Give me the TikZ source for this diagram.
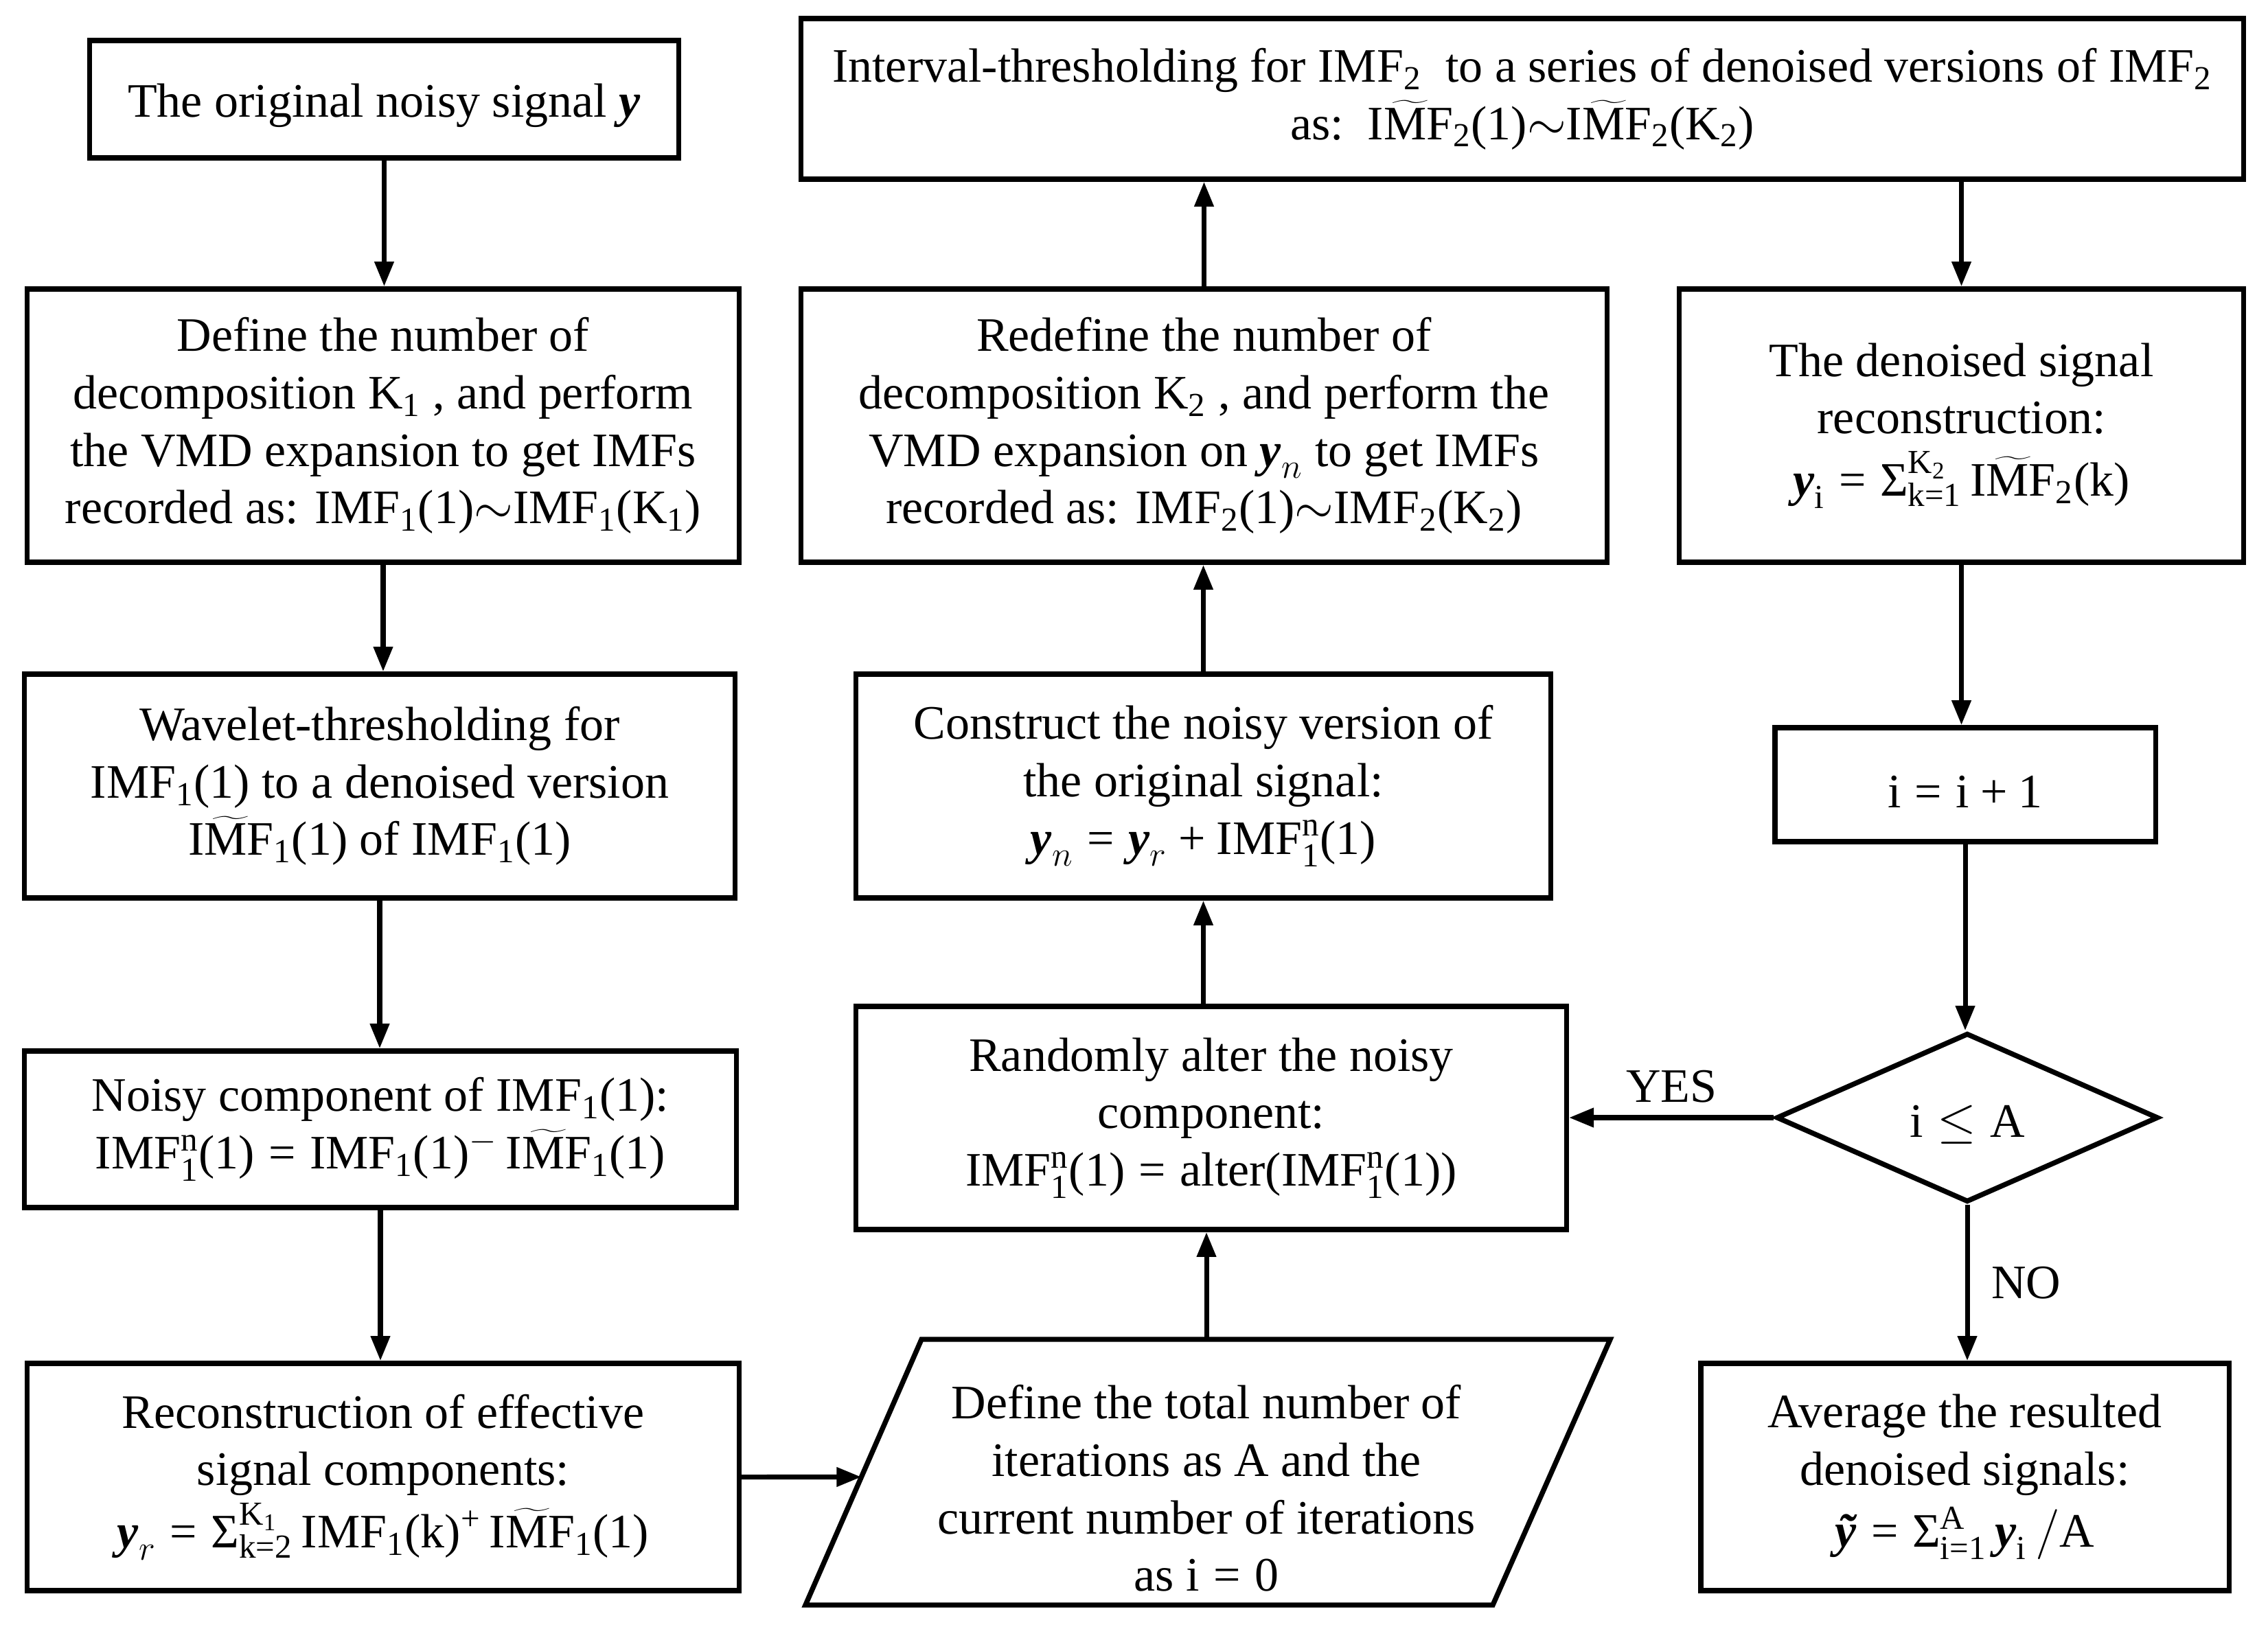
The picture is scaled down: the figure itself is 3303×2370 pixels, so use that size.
\documentclass[tikz,border=0pt]{standalone}
\usepackage[no-math]{fontspec}
\setmainfont{Liberation Serif}[NFSSFamily=lsf]
\DeclareSymbolFont{operators}{TU}{lsf}{m}{n}
\SetSymbolFont{operators}{bold}{TU}{lsf}{b}{n}
\DeclareMathAlphabet{\mathrm}{TU}{lsf}{m}{n}
\usetikzlibrary{arrows.meta,shapes.geometric,calc}

\newcommand\by{\textbf{\textit{y}}}
\newcommand\yb{\mbox{\by}}
\newcommand\vIMF{\mathrm{IMF}}
\newcommand\vIMFt{\widetilde{\mathrm{IMF}}}
\newcommand\vSum{\mathop{\mbox{Σ}}\nolimits}

\begin{document}
\begin{tikzpicture}[x=0.01cm,y=-0.01cm,
  txt/.style={font=\fontsize{19.9}{23.8}\selectfont},
  box/.style={draw, line width=2.1pt, align=center, inner sep=0pt, txt,
    execute at begin node={\rule{0pt}{\dimexpr0.72em+4.5pt\relax}}},
  arr/.style={line width=2pt, -{Triangle[length=0.36cm,width=0.27cm]}},
  lbl/.style={txt}]

\fill[white] (0,0) rectangle (3303,2370);
\useasboundingbox (0,0) rectangle (3303,2370);

\node[box, minimum width=8.57cm, minimum height=1.71cm] (orig) at (559.5,144.5)
  {The original noisy signal \by};

\node[box, minimum width=21.00cm, minimum height=2.34cm] (intv) at (2217,144)
  {Interval-thresholding for $\vIMF_2$\ \ to a series of denoised versions of $\vIMF_2$\\
   as:\ \ $\vIMFt_2(1){\sim}\vIMFt_2(\mathrm{K}_2)$};

\node[box, minimum width=10.36cm, minimum height=3.98cm] (def) at (558,620)
  {Define the number of\\
   decomposition $\mathrm{K}_1$ , and perform\\
   the VMD expansion to get IMFs\\
   recorded as: $\vIMF_1(1){\sim}\vIMF_1(\mathrm{K}_1)$};

\node[box, minimum width=11.73cm, minimum height=3.98cm] (redef) at (1753.5,620)
  {Redefine the number of\\
   decomposition $\mathrm{K}_2$ , and perform the\\
   VMD expansion on $\yb_n$ to get IMFs\\
   recorded as: $\vIMF_2(1){\sim}\vIMF_2(\mathrm{K}_2)$};

\node[box, minimum width=8.21cm, minimum height=3.98cm] (recs) at (2856.5,620)
  {The denoised signal\\
   reconstruction:\\[2pt]
   $\yb_\mathrm{i}=\vSum_{\mathrm{k}=1}^{\mathrm{K}_2}\vIMFt_2(\mathrm{k})$};

\node[box, minimum width=10.34cm, minimum height=3.26cm] (wav) at (553,1145)
  {Wavelet-thresholding for\\
   $\vIMF_1(1)$ to a denoised version\\
   $\vIMFt_1(1)$ of $\vIMF_1(1)$};

\node[box, minimum width=10.11cm, minimum height=3.26cm] (cons) at (1752.5,1145)
  {Construct the noisy version of\\
   the original signal:\\
   $\yb_n=\yb_r+\vIMF_1^{\mathrm{n}}(1)$};

\node[box, minimum width=5.54cm, minimum height=1.66cm] (inc) at (2862,1143)
  {$\mathrm{i}=\mathrm{i}+1$};

\node[box, minimum width=10.36cm, minimum height=2.28cm] (noisy) at (554,1645)
  {Noisy component of $\vIMF_1(1)$:\\
   $\vIMF_1^{\mathrm{n}}(1)=\vIMF_1(1){}^{-}\,\vIMFt_1(1)$};

\node[box, minimum width=10.34cm, minimum height=3.25cm] (rand) at (1764,1628.5)
  {Randomly alter the noisy\\
   component:\\
   $\vIMF_1^{\mathrm{n}}(1)=\mathrm{alter}(\vIMF_1^{\mathrm{n}}(1))$};

\node[box, diamond, minimum width=5.56cm, minimum height=2.46cm] (dec) at (2865,1628)
  {$\mathrm{i}\leq\mathrm{A}$};

\node[box, minimum width=10.36cm, minimum height=3.31cm] (recon) at (558,2151.5)
  {Reconstruction of effective\\
   signal components:\\[2pt]
   $\yb_r=\vSum_{\mathrm{k}=2}^{\mathrm{K}_1}\vIMF_1(\mathrm{k}){}^{+}\,\vIMFt_1(1)$};

\node[box, minimum width=7.69cm, minimum height=3.31cm] (avg) at (2861.5,2151.5)
  {Average the resulted\\
   denoised signals:\\[2pt]
   $\mbox{\textbf{\textit{ỹ}}}=\vSum_{\mathrm{i}=1}^{\mathrm{A}}\yb_\mathrm{i}\,/\mathrm{A}$};

% parallelogram
\coordinate (pTL) at (1342,1951);
\coordinate (pTR) at (2345,1951);
\coordinate (pBR) at (2174,2338);
\coordinate (pBL) at (1173,2338);
\draw[line width=2.1pt, line join=miter] (pTL) -- (pTR) -- (pBR) -- (pBL) -- cycle;
\node[txt, align=center, inner sep=0pt] (par) at (1757,2168)
  {Define the total number of\\
   iterations as A and the\\
   current number of iterations\\
   as $\mathrm{i}=0$};
\coordinate (pL) at ($(pBL)!0.482!(pTL)$);
\coordinate (pT) at (1757,1951);

% connectors
\draw[arr] (orig.south) -- (orig.south |- def.north);
\draw[arr] (def.south) -- (def.south |- wav.north);
\draw[arr] (wav.south) -- (wav.south |- noisy.north);
\draw[arr] (noisy.south) -- (noisy.south |- recon.north);
\draw[arr] (recon.east) -- (pL);
\draw[arr] (pT) -- (pT |- rand.south);
\draw[arr] (rand.north -| cons.south) -- (cons.south);
\draw[arr] (cons.north) -- (cons.north |- redef.south);
\draw[arr] (redef.north) -- (redef.north |- intv.south);
\draw[arr] (intv.south -| recs.north) -- (recs.north);
\draw[arr] (recs.south) -- (recs.south |- inc.north);
\draw[arr] (inc.south) -- (inc.south |- dec.north);
\draw[arr] (dec.west) -- (dec.west -| rand.east)
  node[lbl, midway, above, yshift=2pt] {YES};
\draw[arr] (dec.south) -- (dec.south |- avg.north)
  node[lbl, pos=0.5, right, xshift=0.2cm] {NO};
\end{tikzpicture}
\end{document}
